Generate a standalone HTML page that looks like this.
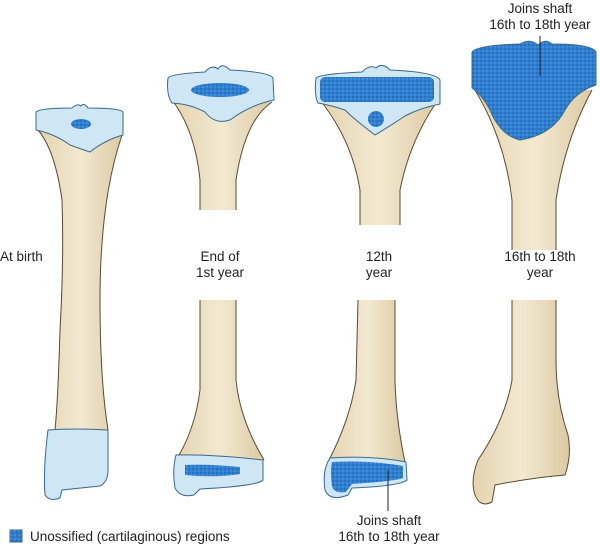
<!DOCTYPE html>
<html><head><meta charset="utf-8"><style>
html,body{margin:0;padding:0;background:#fff;}
svg{display:block;}
text{font-family:"Liberation Sans",sans-serif;font-size:13.5px;fill:#222;}
</style></head><body>
<svg width="600" height="550" viewBox="0 0 600 550" xmlns="http://www.w3.org/2000/svg">
<defs>
<pattern id="dots" width="4" height="4" patternUnits="userSpaceOnUse">
<rect width="4" height="4" fill="#2f7fd0"/>
<circle cx="1" cy="1" r="0.7" fill="#1a5aa8"/>
<circle cx="3" cy="3" r="0.6" fill="#6aa8e8"/>
</pattern>
<linearGradient id="bone" x1="0" x2="1" y1="0" y2="0">
<stop offset="0" stop-color="#e3d3ae"/><stop offset="0.5" stop-color="#f3e9d2"/><stop offset="1" stop-color="#dccaa2"/>
</linearGradient>
</defs>
<g stroke="#5a4a34" stroke-width="1" fill="url(#bone)">
<path d="M38,130 Q55,150 62,200 Q64,260 60,330 Q58,400 55,430 L108,430 Q100,380 100,300 Q100,200 122,135 Z"/>
<path d="M172,100 Q195,130 200,180 L200,210 L236,210 L236,180 Q245,120 272,102 Z" stroke="none"/>
<path d="M172,100 Q195,130 200,180 L200,210 M236,210 L236,180 Q245,120 272,102" fill="none"/>
<path d="M200,300 L200,390 Q195,430 176,460 L264,460 Q240,420 236,380 L236,300 Z" stroke="none"/>
<path d="M200,300 L200,390 Q195,430 176,460 M264,460 Q240,420 236,380 L236,300" fill="none"/>
<path d="M320,100 Q352,140 360,190 L360,225 L400,225 L400,190 Q410,140 438,100 Z" stroke="none"/>
<path d="M320,100 Q352,140 360,190 L360,225 M400,225 L400,190 Q410,140 438,100" fill="none"/>
<path d="M358,300 L356,380 Q350,420 328,462 L405,462 Q396,420 395,380 L395,300 Z" stroke="none"/>
<path d="M358,300 L356,380 Q350,420 328,462 M405,462 Q396,420 395,380 L395,300" fill="none"/>
<path d="M475,90 Q505,140 512,200 L512,250 L556,250 L556,200 Q565,140 592,90 Z" stroke="none"/>
<path d="M475,90 Q505,140 512,200 L512,250 M556,250 L556,200 Q565,140 592,90" fill="none"/>
<path d="M512,300 L512,380 Q505,420 478,460 Q470,480 475,495 Q480,508 492,502 L495,485 Q530,478 565,475 Q572,455 568,435 Q556,400 556,360 L556,300 Z" stroke="none"/>
<path d="M512,300 L512,380 Q505,420 478,460 Q470,480 475,495 Q480,508 492,502 L495,485 Q530,478 565,475 Q572,455 568,435 Q556,400 556,360 L556,300" fill="none"/>
</g>
<g stroke="#3a6a8a" stroke-width="1" fill="#cfe6f5">
<path d="M36,112 Q40,108 72,108 Q77,103 81,106 Q84,102 88,108 Q120,108 123,112 L123,135 Q105,140 90,152 Q78,148 70,145 Q55,134 36,130 Z"/>
<path d="M48,430 Q75,428 108,430 L108,470 Q108,482 100,486 L62,490 L60,498 Q50,502 45,495 Q43,470 48,430 Z"/>
<path d="M168,78 Q170,74 205,72 Q212,64 218,69 Q222,62 230,70 Q270,72 273,78 L274,100 Q250,105 230,120 Q215,125 205,112 Q190,104 172,103 Q166,95 168,78 Z"/>
<path d="M176,455 Q210,454 263,460 L263,480 Q258,486 200,489 L194,495 Q180,498 175,488 Q172,470 176,455 Z"/>
<path d="M316,78 Q320,74 362,72 Q370,64 376,68 Q382,62 390,70 Q436,72 440,80 L440,104 Q420,108 405,116 Q390,126 375,135 Q355,120 345,110 Q330,105 318,103 Q314,95 316,78 Z"/>
<path d="M330,458 Q370,455 406,462 L407,480 Q400,486 352,488 L348,495 Q330,502 325,490 Q322,470 330,458 Z"/>
</g>
<g fill="url(#dots)">
<ellipse cx="81" cy="124" rx="10" ry="5"/>
<ellipse cx="220" cy="90" rx="29" ry="7"/>
<rect x="320" y="77" width="114" height="25" rx="5"/>
<ellipse cx="376" cy="119" rx="8" ry="8"/>
<path d="M332,462 Q370,460 403,466 L403,478 Q396,481 352,484 L346,492 Q334,494 332,486 Q330,472 332,462 Z"/>
<path d="M185,465 Q210,464 240,467 L240,474 Q215,478 185,475 Z"/>
<path d="M472,52 Q478,45 520,44 Q530,38 538,45 Q545,38 552,44 Q592,44 596,52 L596,85 Q575,92 565,110 Q552,135 520,140 Q500,135 490,110 Q482,95 472,88 Z" stroke="#3a6a8a" stroke-width="1"/>
</g>
<g stroke="#222" stroke-width="1">
<line x1="540" y1="36" x2="540" y2="76"/>
<line x1="388" y1="470" x2="388" y2="511"/>
</g>
<text x="0" y="261">At birth</text>
<text x="220" y="261" text-anchor="middle">End of</text>
<text x="220" y="277" text-anchor="middle">1st year</text>
<text x="379" y="261" text-anchor="middle">12th</text>
<text x="379" y="277" text-anchor="middle">year</text>
<text x="540" y="261" text-anchor="middle">16th to 18th</text>
<text x="540" y="277" text-anchor="middle">year</text>
<text x="540" y="13" text-anchor="middle">Joins shaft</text>
<text x="540" y="29" text-anchor="middle">16th to 18th year</text>
<text x="389" y="525" text-anchor="middle">Joins shaft</text>
<text x="389" y="541" text-anchor="middle">16th to 18th year</text>
<rect x="10" y="530" width="12" height="12" fill="url(#dots)" stroke="#3a6a8a"/>
<text x="30" y="541">Unossified (cartilaginous) regions</text>
</svg>
</body></html>
